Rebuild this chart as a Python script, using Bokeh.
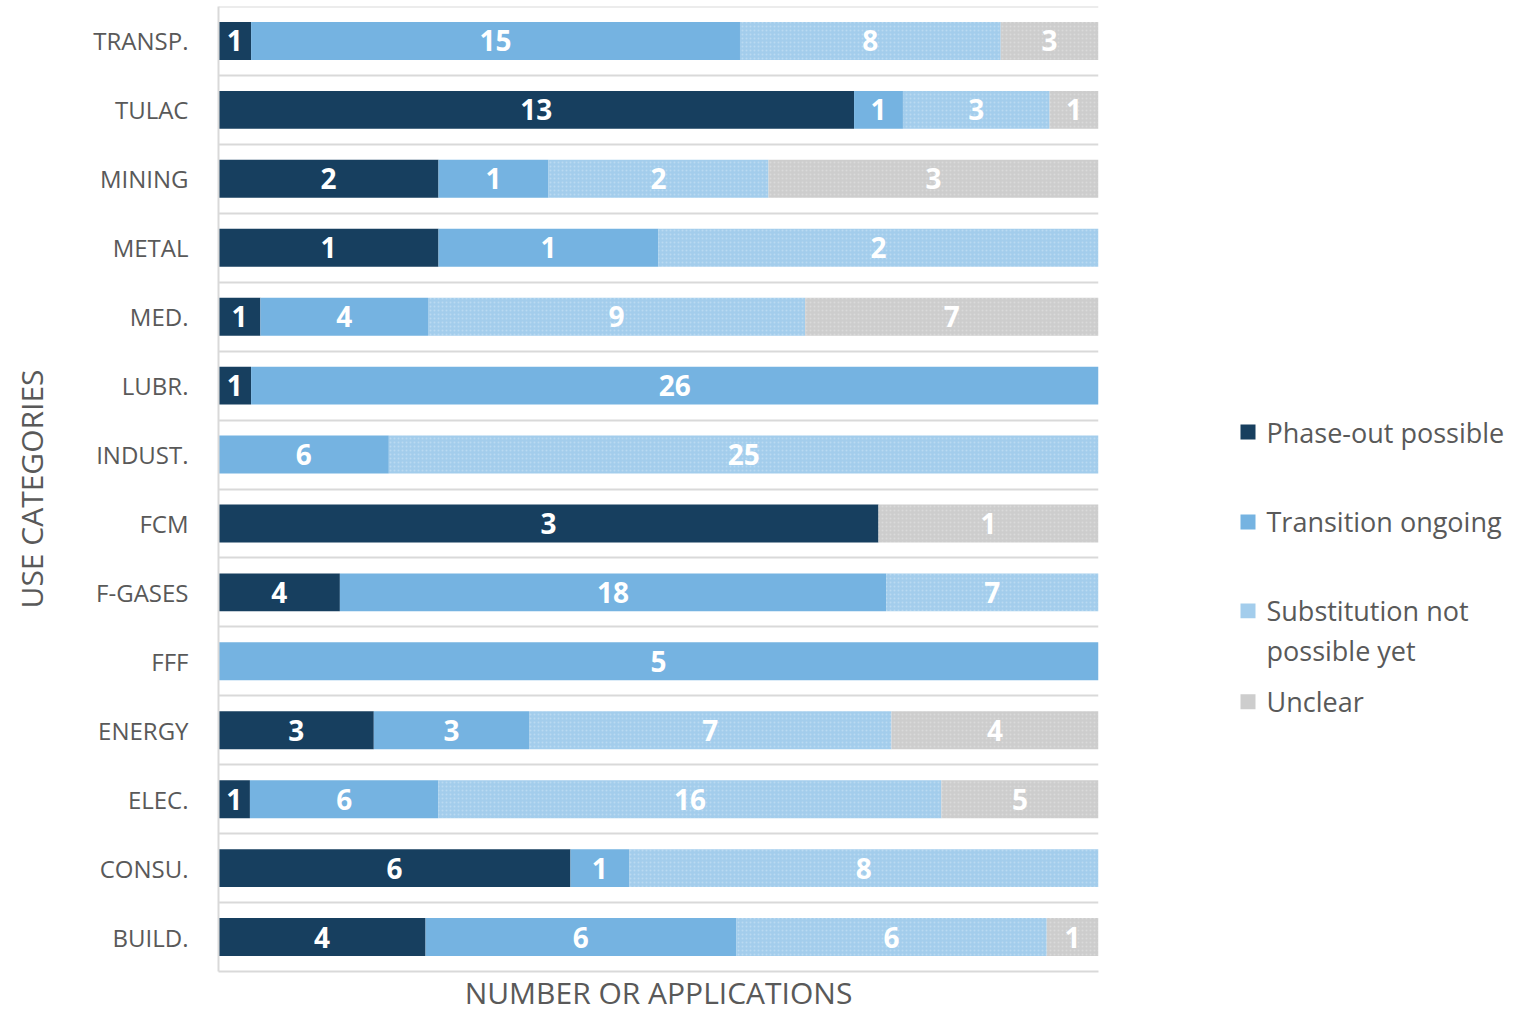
from bokeh.plotting import figure
from bokeh.models import FactorRange, Range1d, ColumnDataSource, FixedTicker
from bokeh.layouts import row
from bokeh.embed import file_html
from bokeh.resources import INLINE
from bokeh.core.properties import value

# Use categories, top to bottom
categories = ["TRANSP.", "TULAC", "MINING", "METAL", "MED.", "LUBR.", "INDUST.",
              "FCM", "F-GASES", "FFF", "ENERGY", "ELEC.", "CONSU.", "BUILD."]

series_names = ["Phase-out possible", "Transition ongoing",
                "Substitution not possible yet", "Unclear"]

# Number of applications per use category and status
phase_out = [1, 13, 2, 1, 1, 1, 0, 3, 4, 0, 3, 1, 6, 4]
transition = [15, 1, 1, 1, 4, 26, 6, 0, 18, 5, 3, 6, 1, 6]
not_possible_yet = [8, 3, 2, 2, 9, 0, 25, 0, 7, 0, 7, 16, 8, 6]
unclear = [3, 1, 3, 0, 7, 0, 0, 1, 0, 0, 4, 5, 0, 1]

series_values = [phase_out, transition, not_possible_yet, unclear]
series_colors = ["#173F5F", "#75B3E1", "#A3CDEC", "#CDCDCD"]

FONT = "Open Sans"
TEXT_GREY = "#595959"
LINE_GREY = "#D9D9D9"

# shared borders so the chart frame and the legend panel line up
BORDER_TOP, BORDER_BOTTOM = 6, 43
FIG_H = 1015

totals = [sum(v) for v in zip(*series_values)]

p = figure(
    y_range=FactorRange(factors=categories[::-1]),
    x_range=Range1d(0, 1),
    width=1130, height=FIG_H,
    min_border_left=218, min_border_right=32,
    min_border_top=BORDER_TOP, min_border_bottom=BORDER_BOTTOM,
    output_backend="svg", toolbar_location=None,
)
p.outline_line_color = None
p.xgrid.visible = False
p.ygrid.visible = False

# separators between category rows
p.hspan(y=list(range(1, len(categories) + 1)), line_color=LINE_GREY, line_width=2)

cumulative = [0.0] * len(categories)
for name, vals, color in zip(series_names, series_values, series_colors):
    lefts, rights, cats, mids, labels = [], [], [], [], []
    for i, (cat, v, tot) in enumerate(zip(categories, vals, totals)):
        if v == 0:
            continue
        left = cumulative[i]
        right = left + v / tot
        cats.append(cat)
        lefts.append(left)
        rights.append(right)
        mids.append((left + right) / 2)
        labels.append(str(v))
        cumulative[i] = right
    src = ColumnDataSource(dict(cat=cats, left=lefts, right=rights, mid=mids, label=labels))
    extra = {}
    if name in ("Substitution not possible yet", "Unclear"):
        extra = dict(hatch_pattern=".", hatch_color="#ffffff", hatch_alpha=0.25, hatch_scale=4)
    p.hbar(y="cat", left="left", right="right", height=0.55, source=src,
           fill_color=color, line_color=None, **extra)
    p.text(x="mid", y="cat", text="label", source=src,
           text_color="white", text_font=value(FONT), text_font_style="bold",
           text_font_size="28px", text_align="center", text_baseline="middle")

# x axis: title only
p.xaxis.ticker = FixedTicker(ticks=[])
p.xaxis.major_tick_out = 0
p.xaxis.major_tick_in = 0
p.xaxis.major_label_standoff = 0
p.xaxis.major_tick_line_color = None
p.xaxis.minor_tick_line_color = None
p.xaxis.axis_line_color = LINE_GREY
p.xaxis.axis_line_width = 2
p.xaxis.axis_label = "NUMBER OR APPLICATIONS"
p.xaxis.axis_label_text_font = FONT
p.xaxis.axis_label_text_font_style = "normal"
p.xaxis.axis_label_text_font_size = "30px"
p.xaxis.axis_label_text_color = TEXT_GREY
p.xaxis.axis_label_standoff = 0

# y axis: category names
p.yaxis.major_tick_out = 0
p.yaxis.major_tick_in = 0
p.yaxis.major_tick_line_color = None
p.yaxis.minor_tick_line_color = None
p.yaxis.axis_line_color = LINE_GREY
p.yaxis.axis_line_width = 2
p.yaxis.major_label_standoff = 30
p.yaxis.major_label_text_font = FONT
p.yaxis.major_label_text_font_size = "24px"
p.yaxis.major_label_text_color = TEXT_GREY
p.yaxis.axis_label = "USE CATEGORIES"
p.yaxis.axis_label_text_font = FONT
p.yaxis.axis_label_text_font_style = "normal"
p.yaxis.axis_label_text_font_size = "30px"
p.yaxis.axis_label_text_color = TEXT_GREY
p.yaxis.axis_label_standoff = 38

# legend panel, in page pixel coordinates
leg = figure(width=405, height=FIG_H, x_range=Range1d(0, 405),
             y_range=Range1d(FIG_H - BORDER_BOTTOM, BORDER_TOP),
             min_border_left=0, min_border_right=0,
             min_border_top=BORDER_TOP, min_border_bottom=BORDER_BOTTOM,
             output_backend="svg", toolbar_location=None)
leg.axis.visible = False
leg.grid.visible = False
leg.outline_line_color = None

entry_y = [432, 522, 611, 702]
leg.rect(x=117.5, y=entry_y, width=15, height=15, fill_color=series_colors, line_color=None)

line_text, line_y = [], []
for name, y in zip(series_names, entry_y):
    words = name.split()
    lines = [name] if len(name) <= 20 else [" ".join(words[:2]), " ".join(words[2:])]
    for k, ln in enumerate(lines):
        line_text.append(ln)
        line_y.append(y + 40 * k)
leg.text(x=136, y=line_y, text=line_text, text_font=value(FONT), text_font_size="27px",
         text_color=TEXT_GREY, text_align="left", text_baseline="middle")

layout = row(p, leg)
open("out.html", "w").write(file_html(layout, INLINE))
